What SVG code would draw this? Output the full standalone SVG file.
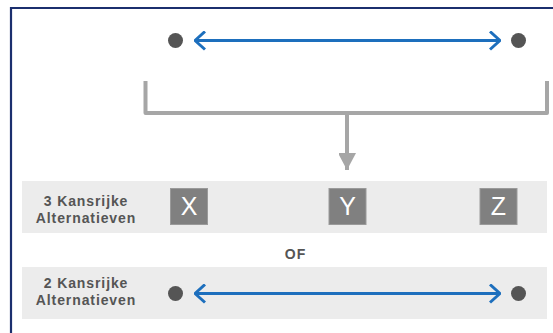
<svg xmlns="http://www.w3.org/2000/svg" width="553" height="333" viewBox="0 0 553 333">
  <style>
    .band { fill: #ececec; }
    .lbl { font-family: "Liberation Sans", Arial, sans-serif; font-size: 14px; font-weight: bold; fill: #555555; letter-spacing: 0.9px; text-anchor: middle; }
    .box { fill: #808080; stroke: #9a9a9a; stroke-width: 1; }
    .boxtxt { font-family: "Liberation Sans", Arial, sans-serif; font-size: 25px; fill: #ffffff; text-anchor: middle; }
    .dot { fill: #555555; }
    .blue { stroke: #1d6fbd; stroke-width: 3; fill: none; }
    .gray { stroke: #a6a6a6; stroke-width: 4; fill: none; }
  </style>
  <defs>
    <marker id="chev" viewBox="0 0 12 20" refX="11" refY="10" markerWidth="12" markerHeight="20" markerUnits="userSpaceOnUse" orient="auto-start-reverse">
      <path d="M1,1 L11,10 L1,19" fill="none" stroke="#1d6fbd" stroke-width="3"/>
    </marker>
    <marker id="tri" viewBox="0 0 18 17" refX="17" refY="9" markerWidth="18" markerHeight="17" markerUnits="userSpaceOnUse" orient="auto">
      <path d="M0,0 L17,9 L0,18 Z" fill="#a6a6a6"/>
    </marker>
  </defs>

  <rect width="553" height="333" fill="#ffffff"/>
  <g id="frame">
    <path d="M11,340 L11,8 L560,8" fill="none" stroke="#1b2f6e" stroke-width="2.2"/>
  </g>

  <g id="top-range">
    <circle class="dot" cx="175.5" cy="40.5" r="7.5"/>
    <circle class="dot" cx="518.5" cy="40.5" r="7.5"/>
  </g>

  <g id="band-3">
    <rect class="band" x="22" y="181" width="525" height="52"/>
    <text class="lbl" x="86" y="206">3 Kansrijke</text>
    <text class="lbl" x="86" y="223">Alternatieven</text>
  </g>
  <g id="node-x">
    <rect class="box" x="170.5" y="188.5" width="37" height="36"/>
    <text class="boxtxt" x="189" y="215">X</text>
  </g>
  <g id="node-y">
    <rect class="box" x="329" y="188.5" width="37" height="36"/>
    <text class="boxtxt" x="347.5" y="215">Y</text>
  </g>
  <g id="node-z">
    <rect class="box" x="480" y="188.5" width="37" height="36"/>
    <text class="boxtxt" x="498.5" y="215">Z</text>
  </g>

  <g id="of">
    <text class="lbl" x="295.5" y="259" style="letter-spacing:1px">OF</text>
  </g>

  <g id="band-2">
    <rect class="band" x="22" y="267" width="525" height="52"/>
    <text class="lbl" x="86" y="288">2 Kansrijke</text>
    <text class="lbl" x="86" y="305">Alternatieven</text>
    <circle class="dot" cx="175.5" cy="293.5" r="7.5"/>
    <circle class="dot" cx="518.5" cy="293.5" r="7.5"/>
  </g>

  <g id="connectors">
    <line class="blue" x1="195" y1="40.5" x2="500" y2="40.5" marker-start="url(#chev)" marker-end="url(#chev)"/>
    <path class="gray" d="M145.5,81 L145.5,113 L547,113 L547,81" stroke-linejoin="round"/>
    <line class="gray" x1="347" y1="113" x2="347" y2="170" marker-end="url(#tri)"/>
    <line class="blue" x1="195" y1="293.5" x2="500" y2="293.5" marker-start="url(#chev)" marker-end="url(#chev)"/>
  </g>
</svg>
